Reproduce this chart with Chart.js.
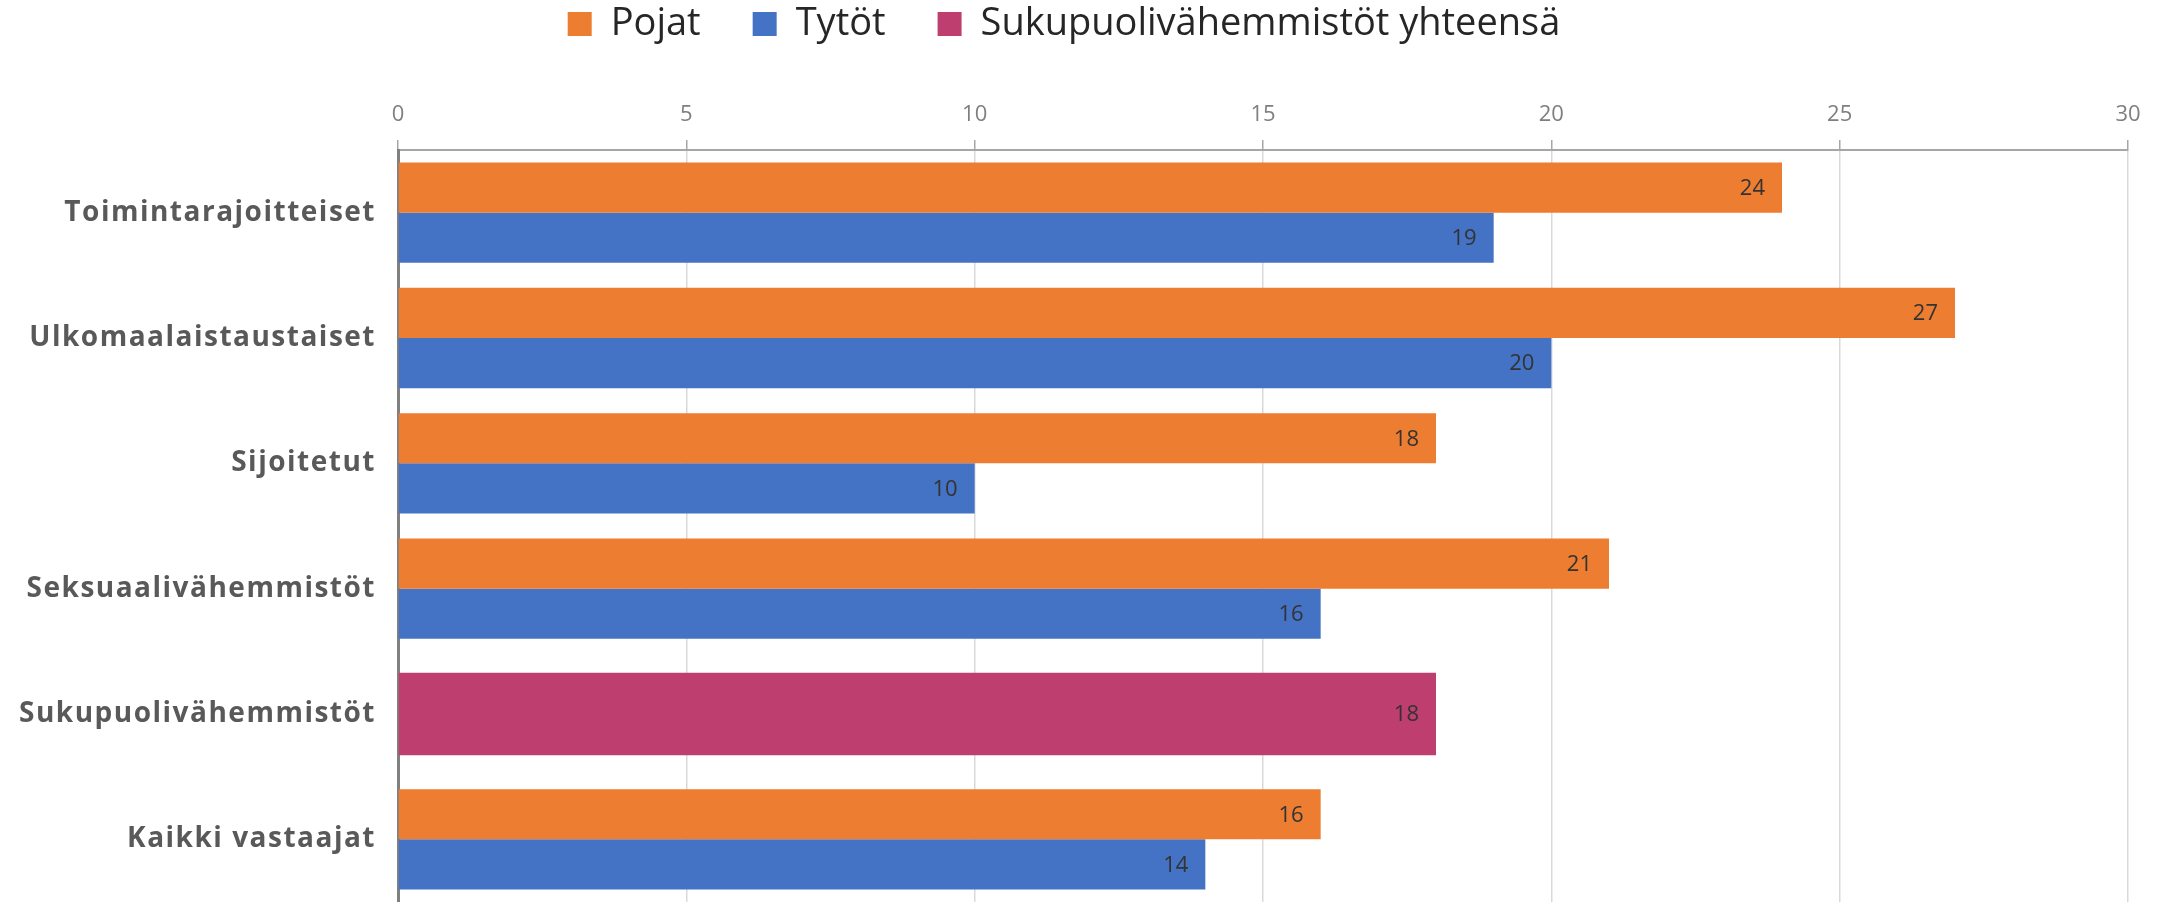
<!DOCTYPE html>
<html>
<head>
<meta charset="utf-8">
<script src="https://cdn.jsdelivr.net/npm/chart.js@4.4.1/dist/chart.umd.min.js"></script>
<style>
  html, body { margin: 0; padding: 0; background: #ffffff; }
  #wrap { width: 2167px; height: 902px; position: relative; }
</style>
</head>
<body>
<div id="wrap"><canvas id="c"></canvas></div>
<script>
const categories = ['Toimintarajoitteiset', 'Ulkomaalaistaustaiset', 'Sijoitetut', 'Seksuaalivähemmistöt', 'Sukupuolivähemmistöt', 'Kaikki vastaajat'];
const seriesNames = ['Pojat', 'Tytöt', 'Sukupuolivähemmistöt yhteensä'];
const pojat = [24, 27, 18, 21, null, 16];
const tytot = [19, 20, 10, 16, null, 14];
const sukupuoli = [null, null, null, null, 18, null];
const xMin = 0, xMax = 30, xStep = 5;

const FONT = '"Open Sans", "Noto Sans", sans-serif';

const legendPatch = {
  id: 'legendPatch',
  beforeInit(chart) {
    const lg = chart.legend;
    if (!lg || lg._patched) return;
    lg._patched = true;
    const origFit = lg.fit.bind(lg);
    lg.fit = function () { origFit(); this.height = 60; };
    const origInnerDraw = lg._draw.bind(lg);
    lg._draw = function () {
      const ctx = this.ctx;
      ctx.save();
      ctx.translate(0, -47);
      origInnerDraw();
      ctx.restore();
    };
  }
};

const labelSpacing = {
  id: 'labelSpacing',
  afterUpdate(chart) {
    const s = chart.scales.y;
    if (!s || s._lsPatched) return;
    s._lsPatched = true;
    const orig = s.drawLabels.bind(s);
    s.drawLabels = function (area) {
      const ctx = this.ctx;
      ctx.save();
      ctx.letterSpacing = '1.5px';
      orig(area);
      ctx.restore();
    };
  }
};

const valueLabels = {
  id: 'valueLabels',
  afterDatasetsDraw(chart) {
    const ctx = chart.ctx;
    ctx.save();
    ctx.font = '22px ' + FONT;
    ctx.fillStyle = '#333333';
    ctx.textAlign = 'right';
    ctx.textBaseline = 'middle';
    chart.data.datasets.forEach((ds, di) => {
      const meta = chart.getDatasetMeta(di);
      meta.data.forEach((el, i) => {
        const v = ds.data[i];
        if (v === null || v === undefined) return;
        ctx.fillText(String(v), el.x - 17, el.y + 1);
      });
    });
    ctx.restore();
  }
};

new Chart(document.getElementById('c'), {
  type: 'bar',
  data: {
    labels: categories,
    datasets: [
      { label: seriesNames[0], data: pojat, backgroundColor: '#ED7D31',
        categoryPercentage: 0.8, barPercentage: 1.0, skipNull: true },
      { label: seriesNames[1], data: tytot, backgroundColor: '#4472C4',
        categoryPercentage: 0.8, barPercentage: 1.0, skipNull: true },
      { label: seriesNames[2], data: sukupuoli, backgroundColor: '#BE3E6F',
        categoryPercentage: 1.0, barPercentage: 0.66, skipNull: true }
    ]
  },
  options: {
    indexAxis: 'y',
    responsive: true,
    maintainAspectRatio: false,
    animation: false,
    skipNull: true,
    layout: { padding: { left: 0, right: 39, top: 0, bottom: 0 } },
    plugins: {
      legend: {
        position: 'top',
        align: 'center',
        labels: {
          boxWidth: 24,
          boxHeight: 24,
          padding: 52,
          color: '#262626',
          font: { family: FONT, size: 38 }
        }
      },
      tooltip: { enabled: false }
    },
    scales: {
      x: {
        type: 'linear',
        position: 'top',
        min: xMin,
        max: xMax,
        ticks: { stepSize: xStep, color: '#7f7f7f', padding: 12, font: { family: FONT, size: 22 } },
        grid: { color: '#d9d9d9', lineWidth: 1.5, tickLength: 10, tickColor: '#a6a6a6', drawTicks: true },
        border: { display: true, color: '#a6a6a6', width: 2 },
        afterFit(scale) { scale.height = 90; }
      },
      y: {
        type: 'category',
        position: 'left',
        ticks: { color: '#595959', padding: 22, font: { family: FONT, size: 28, weight: 'bold' } },
        grid: { display: true, color: 'rgba(0,0,0,0)', drawTicks: false },
        border: { display: true, color: '#808080', width: 3 },
        afterFit(scale) { scale.width = 398; scale.paddingTop = 0; scale.paddingBottom = 0; }
      }
    }
  },
  plugins: [legendPatch, labelSpacing, valueLabels]
});
</script>
</body>
</html>
